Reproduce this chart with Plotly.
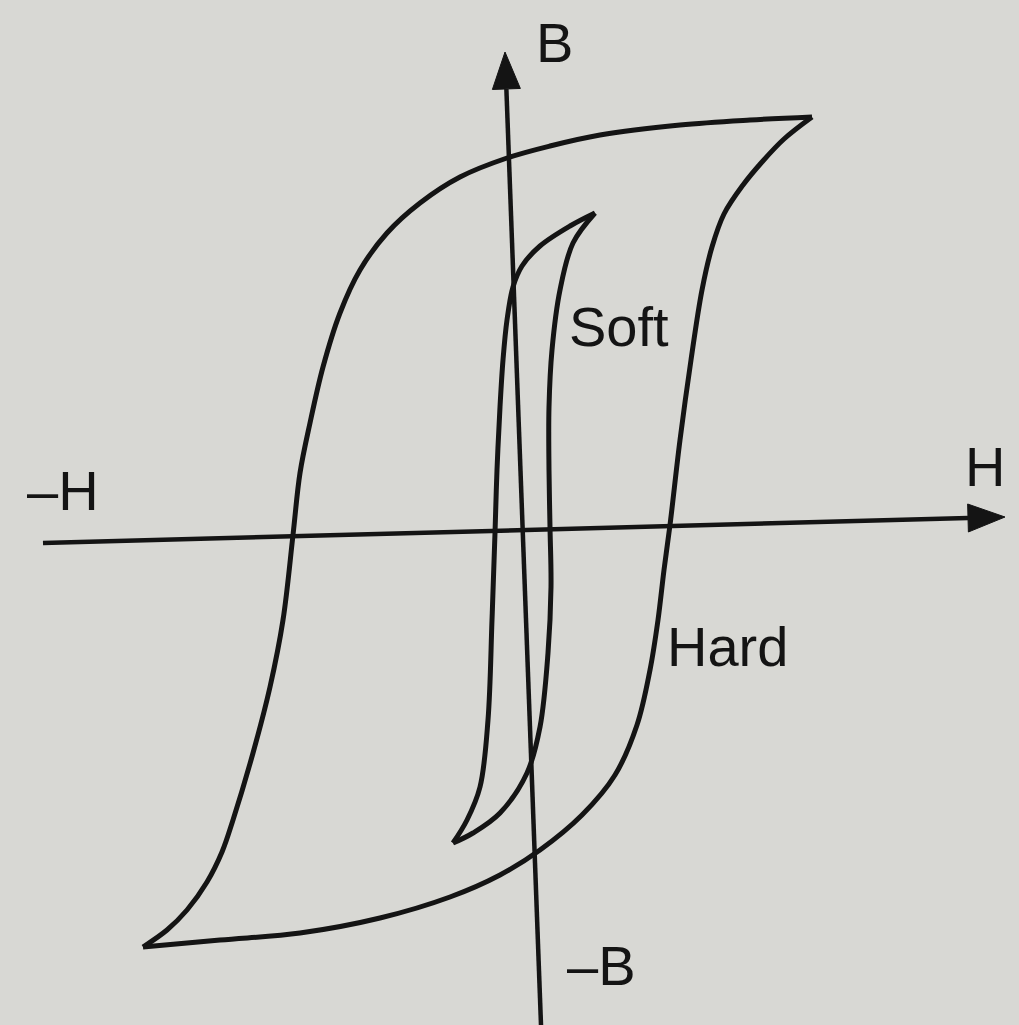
import numpy as np
import plotly.graph_objects as go

# Hard-magnet loop (H, B): upper (descending) and lower (ascending) branches
hard_up_h = [292, 230, 160, 80, 30, -13, -60, -100, -133, -160, -180, -197, -210, -220, -227,
             -237, -250, -267, -287, -298, -313, -333, -353, -377]
hard_up_b = [413, 410, 405, 395, 384, 372, 353, 327, 297, 260, 217, 163, 107, 57, -5,
             -90, -157, -223, -290, -322, -352, -380, -400, -417]
hard_lo_h = [-377, -300, -220, -140, -70, -20, 20, 62, 95, 117, 130, 138, 144, 150, 160,
             171, 182, 192, 204, 223, 242, 264, 292]
hard_lo_b = [-417, -410, -403, -388, -367, -345, -320, -285, -245, -195, -140, -90, -40, 5, 90,
             170, 240, 283, 316, 345, 368, 391, 413]

# Soft-magnet loop (H, B)
soft_up_h = [75, 50, 20, 2, -7, -13, -17, -20, -23, -25, -28, -32, -40, -53, -67]
soft_up_b = [317, 304, 284, 264, 243, 210, 170, 123, 60, -3, -90, -190, -257, -290, -313]
soft_lo_h = [-67, -47, -20, 7, 20, 28, 31, 30, 29, 29, 32, 40, 53, 75]
soft_lo_b = [-313, -303, -283, -243, -197, -123, -57, 3, 60, 123, 180, 240, 287, 317]

# Axis end points (tail, tip)
h_axis_h = [-477, 485]
h_axis_b = [-13, 13]
b_axis_h = [21, -15]
b_axis_b = [-495, 478]

INK = "#141414"
BG = "#d8d8d4"

fig = go.Figure()

for xs, ys in [(hard_up_h, hard_up_b), (hard_lo_h, hard_lo_b),
               (soft_up_h, soft_up_b), (soft_lo_h, soft_lo_b)]:
    fig.add_trace(go.Scatter(x=xs, y=ys, mode="lines",
                             line=dict(color=INK, width=5, shape="spline", smoothing=1.0),
                             hoverinfo="skip", showlegend=False))


def arrow_axis(xs, ys, head_len=37, head_half=14):
    x0, x1 = xs
    y0, y1 = ys
    d = np.array([x1 - x0, y1 - y0], dtype=float)
    u = d / np.linalg.norm(d)
    n = np.array([-u[1], u[0]])
    tip = np.array([x1, y1], dtype=float)
    base = tip - u * head_len
    # shaft
    fig.add_trace(go.Scatter(x=[x0, base[0]], y=[y0, base[1]], mode="lines",
                             line=dict(color=INK, width=4.5), hoverinfo="skip", showlegend=False))
    # head
    p1 = base + n * head_half
    p2 = base - n * head_half
    fig.add_trace(go.Scatter(x=[tip[0], p1[0], p2[0], tip[0]], y=[tip[1], p1[1], p2[1], tip[1]],
                             mode="lines", fill="toself", fillcolor=INK,
                             line=dict(color=INK, width=1), hoverinfo="skip", showlegend=False))


arrow_axis(h_axis_h, h_axis_b)
arrow_axis(b_axis_h, b_axis_b)

labels = [("B", 34, 488), ("–H", -457, 40), ("H", 465, 64), ("–B", 81, -435),
          ("Soft", 99, 204), ("Hard", 207, -116)]
for text, x, y in labels:
    fig.add_annotation(x=x, y=y, text=text, showarrow=False, xanchor="center", yanchor="middle",
                       font=dict(family="Liberation Sans, Arial, sans-serif", size=56, color=INK))

fig.update_layout(
    width=1019, height=1025,
    margin=dict(l=0, r=0, t=0, b=0),
    paper_bgcolor=BG, plot_bgcolor=BG,
    xaxis=dict(range=[-520, 499], visible=False, fixedrange=True),
    yaxis=dict(range=[-495, 530], visible=False, fixedrange=True),
)

fig.write_html("out.html")
